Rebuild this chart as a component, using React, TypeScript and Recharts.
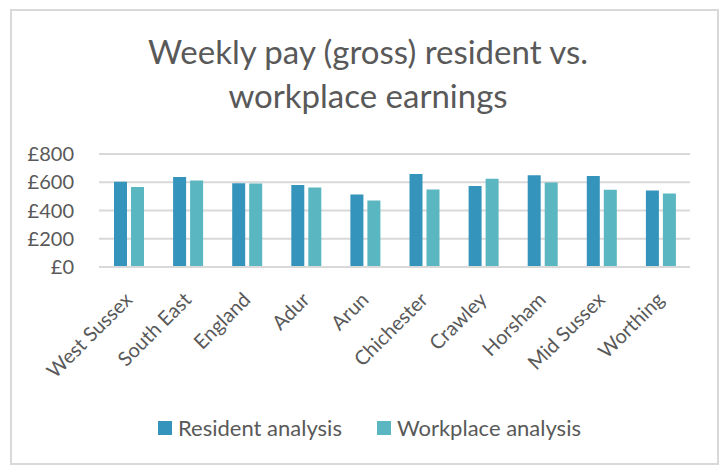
import { BarChart, Bar, XAxis, YAxis, CartesianGrid, Legend } from 'recharts';

// areas shown along the x axis
const areas = [
  'West Sussex',
  'South East',
  'England',
  'Adur',
  'Arun',
  'Chichester',
  'Crawley',
  'Horsham',
  'Mid Sussex',
  'Worthing',
];

// weekly gross pay (£)
const residentPay = [603, 637, 593, 580, 514, 658, 573, 649, 644, 542];
const workplacePay = [566, 613, 592, 563, 471, 549, 625, 599, 547, 521];

const yTicks = [0, 200, 400, 600, 800];

const RESIDENT_COLOUR = '#3494bb';
const WORKPLACE_COLOUR = '#5ab6c0';
const TEXT_COLOUR = '#595959';
const FONT = 'Lato, "Open Sans", sans-serif';

const data = areas.map((area, i) => ({
  area,
  resident: residentPay[i],
  workplace: workplacePay[i],
}));

// rotated category label, end of the text sits just right of the tick
const AreaTick = (props: any) => {
  const { x, y, payload } = props;
  return (
    <g transform={`translate(${x + 5},${y + 34}) rotate(-45)`}>
      <text x={0} y={0} textAnchor="end" fill={TEXT_COLOUR} fontSize={20} fontFamily={FONT}>
        {payload.value}
      </text>
    </g>
  );
};

const LegendBox = () => {
  const items = [
    { label: 'Resident analysis', colour: RESIDENT_COLOUR },
    { label: 'Workplace analysis', colour: WORKPLACE_COLOUR },
  ];
  return (
    <div
      style={{
        width: 723,
        height: 24,
        display: 'flex',
        justifyContent: 'center',
        alignItems: 'center',
        paddingLeft: 16,
        boxSizing: 'border-box',
        fontFamily: FONT,
        fontSize: 22,
        color: TEXT_COLOUR,
      }}
    >
      {items.map((it, i) => (
        <div key={it.label} style={{ display: 'flex', alignItems: 'center', marginLeft: i === 0 ? 0 : 35 }}>
          <span style={{ display: 'inline-block', width: 14, height: 14, background: it.colour, marginRight: 6 }} />
          <span style={{ lineHeight: '24px' }}>{it.label}</span>
        </div>
      ))}
    </div>
  );
};

export default function App() {
  return (
    <div style={{ position: 'absolute', left: 0, top: 0, width: 723, height: 472, background: '#fff' }}>
      {/* chart frame */}
      <div
        style={{
          position: 'absolute',
          left: 10,
          top: 9,
          width: 709,
          height: 456,
          border: '2px solid #d9d9d9',
          boxSizing: 'border-box',
        }}
      />
      {/* title */}
      <div
        style={{
          position: 'absolute',
          left: 0,
          top: 29,
          width: 736,
          textAlign: 'center',
          fontFamily: FONT,
          fontSize: 33,
          lineHeight: '44px',
          color: TEXT_COLOUR,
        }}
      >
        Weekly pay (gross) resident vs.
        <br />
        workplace earnings
      </div>
      <BarChart
        width={723}
        height={472}
        data={data}
        margin={{ top: 154, right: 33, left: 0, bottom: 32 }}
        barSize={13}
        barGap={4}
        style={{ position: 'absolute', left: 0, top: 0 }}
      >
        <CartesianGrid vertical={false} stroke="#d9d9d9" strokeWidth={2} />
        <XAxis
          dataKey="area"
          interval={0}
          height={149}
          tickLine={false}
          tickSize={0}
          tickMargin={0}
          axisLine={{ stroke: '#d9d9d9', strokeWidth: 2 }}
          tick={<AreaTick />}
        />
        <YAxis
          width={99}
          domain={[0, 800]}
          ticks={yTicks}
          axisLine={false}
          tickLine={false}
          tickSize={0}
          tickMargin={25}
          tickFormatter={(v: number) => `£${v}`}
          tick={{ fill: TEXT_COLOUR, fontSize: 20, fontFamily: FONT }}
        />
        <Legend verticalAlign="bottom" content={<LegendBox />} wrapperStyle={{ left: 0, width: 723 }} />
        <Bar dataKey="resident" name="Resident analysis" fill={RESIDENT_COLOUR} isAnimationActive={false} />
        <Bar dataKey="workplace" name="Workplace analysis" fill={WORKPLACE_COLOUR} isAnimationActive={false} />
      </BarChart>
    </div>
  );
}
